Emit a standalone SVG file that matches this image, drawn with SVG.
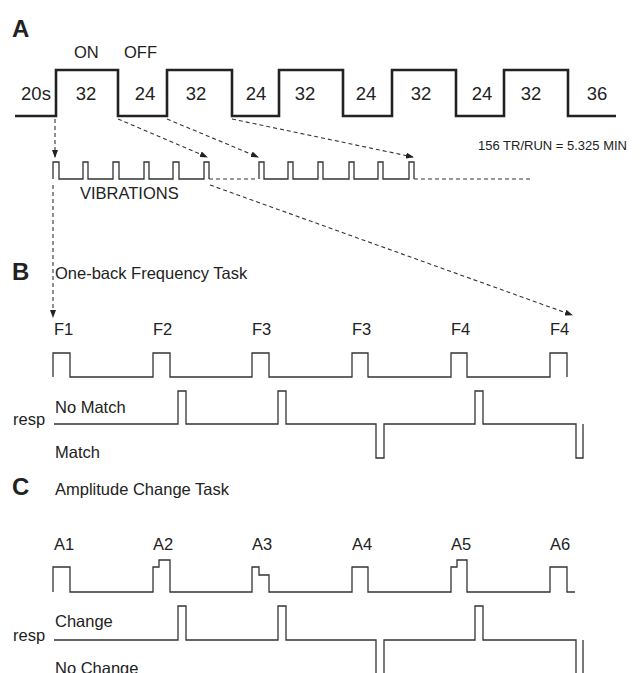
<svg xmlns="http://www.w3.org/2000/svg" width="640" height="673" viewBox="0 0 640 673">
<style>
text{font-family:"Liberation Sans",Arial,sans-serif;fill:#222}
.big{font-size:24px;font-weight:bold}
.num{font-size:18.5px;text-anchor:middle}
.lbl{font-size:16.5px}
.sm{font-size:13px}
.wave{fill:none;stroke:#222;stroke-width:2.6}
.thin{fill:none;stroke:#333;stroke-width:1.3}
.dash{fill:none;stroke:#333;stroke-width:1.1;stroke-dasharray:4 3}
</style>
<defs>
<marker id="ah" markerWidth="8" markerHeight="6" refX="7" refY="3" orient="auto" markerUnits="userSpaceOnUse">
<path d="M0,0 L8,3 L0,6 Z" fill="#222"/>
</marker>
</defs>
<rect width="640" height="673" fill="#fff"/>
<g id="panelA">
<text class="big" x="12" y="37">A</text>
<text class="lbl" x="74" y="58">ON</text>
<text class="lbl" x="124" y="58">OFF</text>
<path class="wave" d="M15,116 H56 V70 H118 V116 H167 V70 H232 V116 H279 V70 H343 V116 H392 V70 H456 V116 H504 V70 H568 V116 H616"/>
<text class="num" x="36" y="100">20s</text>
<text class="num" x="86" y="100">32</text>
<text class="num" x="145" y="100">24</text>
<text class="num" x="196" y="100">32</text>
<text class="num" x="256" y="100">24</text>
<text class="num" x="305" y="100">32</text>
<text class="num" x="366" y="100">24</text>
<text class="num" x="421" y="100">32</text>
<text class="num" x="482" y="100">24</text>
<text class="num" x="531" y="100">32</text>
<text class="num" x="597" y="100">36</text>
<text class="sm" x="478" y="150">156 TR/RUN = 5.325 MIN</text>
</g>
<g id="vibrations">
<path class="thin" d="M53,179 V162 H59 V179 H83 V162 H88 V179 H113 V162 H119 V179 H144 V162 H149 V179 H173 V162 H179 V179 H204 V162 H209 V179"/>
<path class="thin" d="M259,179 V162 H264 V179 H288 V162 H293 V179 H318 V162 H323 V179 H349 V162 H354 V179 H378 V162 H383 V179 H409 V162 H414 V179"/>
<text class="lbl" x="80" y="199">VIBRATIONS</text>
</g>
<g id="panelB">
<text class="big" x="12" y="280">B</text>
<text class="lbl" x="55" y="279">One-back Frequency Task</text>
<text class="lbl" x="54" y="335">F1</text>
<text class="lbl" x="153" y="335">F2</text>
<text class="lbl" x="252" y="335">F3</text>
<text class="lbl" x="352" y="335">F3</text>
<text class="lbl" x="451" y="335">F4</text>
<text class="lbl" x="550" y="335">F4</text>
<path class="thin" d="M53,377 V353 H70 V377 H153 V353 H170 V377 H252 V353 H269 V377 H352 V353 H368 V377 H451 V353 H467 V377 H550 V353 H567 V377"/>
<text class="lbl" x="13" y="425">resp</text>
<text class="lbl" x="55" y="413">No Match</text>
<text class="lbl" x="55" y="458">Match</text>
<path class="thin" d="M54,424 H178 V391 H186 V424 H278 V391 H286 V424 H376 V458 H384 V424 H475 V391 H483 V424 H576 V458 H583 V424"/>
</g>
<g id="panelC">
<text class="big" x="12" y="495">C</text>
<text class="lbl" x="55" y="495">Amplitude Change Task</text>
<text class="lbl" x="54" y="550">A1</text>
<text class="lbl" x="153" y="550">A2</text>
<text class="lbl" x="252" y="550">A3</text>
<text class="lbl" x="352" y="550">A4</text>
<text class="lbl" x="451" y="550">A5</text>
<text class="lbl" x="550" y="550">A6</text>
<path class="thin" d="M53,592 V567 H70 V592 H153 V567 H159 V560 H170 V592 H252 V567 H259 V575 H269 V592 H352 V567 H368 V592 H451 V567 H457 V560 H467 V592 H550 V567 H567 V592 H575"/>
<text class="lbl" x="13" y="641">resp</text>
<text class="lbl" x="55" y="627">Change</text>
<text class="lbl" x="55" y="674">No Change</text>
<path class="thin" d="M54,640 H178 V606 H186 V640 H278 V606 H286 V640 H376 V680 M384,680 V640 H475 V606 H483 V640 H576 V680 M583,680 V640"/>
</g>
<g id="connectors">
<path class="dash" d="M209,179 H255"/>
<path class="dash" d="M414,179 H533"/>
<path class="dash" d="M55,119 V157" marker-end="url(#ah)"/>
<path class="dash" d="M53,185 V317" marker-end="url(#ah)"/>
<path class="dash" d="M118,119 L207,157" marker-end="url(#ah)"/>
<path class="dash" d="M167,119 L258,157" marker-end="url(#ah)"/>
<path class="dash" d="M232,119 L413,157" marker-end="url(#ah)"/>
<path class="dash" d="M210,185 L572,315" marker-end="url(#ah)"/>
</g>
</svg>
